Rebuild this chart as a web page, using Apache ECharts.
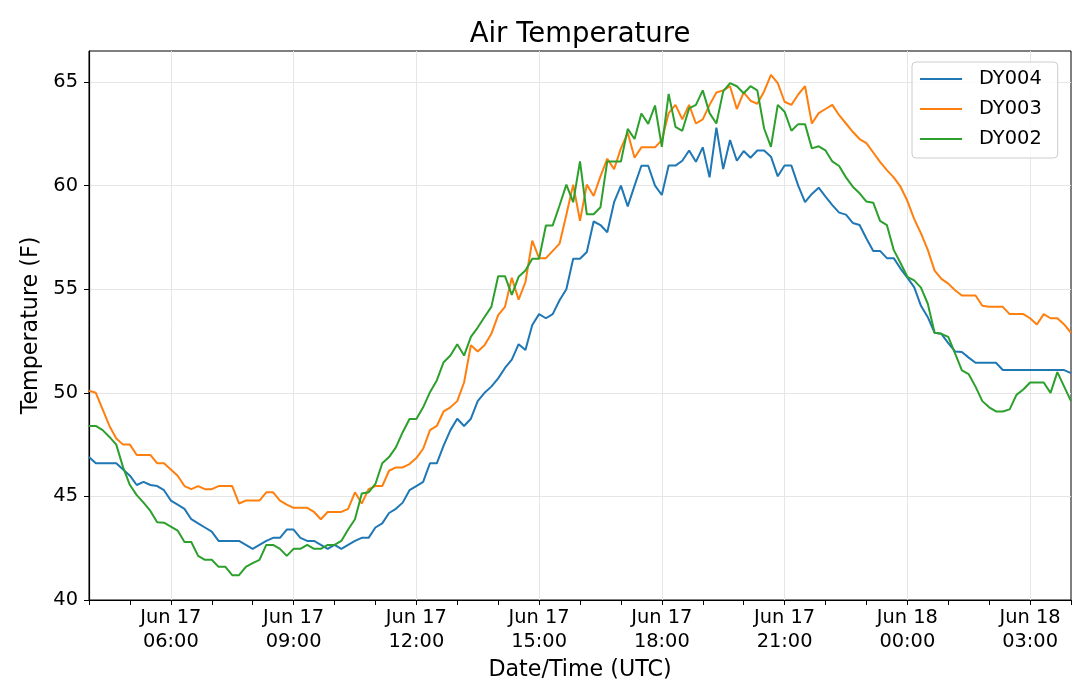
<!DOCTYPE html>
<html>
<head>
<meta charset="utf-8">
<script src="https://cdn.jsdelivr.net/npm/echarts@6/dist/echarts.min.js"></script>
<style>
html,body{margin:0;padding:0;background:#fff;}
#chart{width:1079px;height:698px;}
</style>
</head>
<body>
<div id="chart"></div>
<script>
// Samples every 10 minutes from Jun 17 04:00 UTC to Jun 18 04:00 UTC
var startHour = 4;          // hours since Jun 17 00:00 UTC
var stepHours = 1 / 6;      // 10 minutes

var dy004 = [46.9,46.6,46.6,46.6,46.6,46.3,46.0,45.55,45.7,45.55,45.5,45.3,44.8,44.6,44.4,43.9,43.7,43.5,43.3,42.85,
42.85,42.85,42.85,42.66,42.47,42.66,42.85,43.0,43.0,43.4,43.4,43.0,42.85,42.85,42.66,42.47,42.66,42.47,42.66,42.85,
43.0,43.0,43.5,43.7,44.2,44.4,44.7,45.3,45.5,45.7,46.6,46.6,47.45,48.2,48.75,48.4,48.75,49.6,50.0,50.3,
50.7,51.2,51.6,52.35,52.07,53.27,53.8,53.6,53.8,54.47,55.0,56.47,56.47,56.8,58.27,58.1,57.75,59.2,60.0,59.0,
60.0,60.96,60.96,60.0,59.55,60.97,60.97,61.2,61.7,61.15,61.85,60.4,62.8,60.8,62.2,61.2,61.67,61.35,61.7,61.7,
61.4,60.45,60.97,60.97,60.0,59.2,59.6,59.9,59.47,59.06,58.7,58.6,58.2,58.1,57.45,56.85,56.85,56.5,56.5,56.0,
55.56,55.1,54.2,53.65,52.9,52.85,52.4,52.0,51.97,51.7,51.45,51.45,51.45,51.45,51.1,51.1,51.1,51.1,51.1,51.1,
51.1,51.1,51.1,51.1,50.95];

var dy003 = [50.1,50.0,49.2,48.4,47.8,47.5,47.5,47.0,47.0,47.0,46.6,46.6,46.3,46.0,45.5,45.35,45.5,45.35,45.35,45.5,
45.5,45.5,44.66,44.8,44.8,44.8,45.2,45.2,44.8,44.6,44.45,44.45,44.45,44.25,43.9,44.25,44.25,44.25,44.4,45.2,
44.66,45.35,45.5,45.5,46.24,46.4,46.4,46.56,46.85,47.3,48.2,48.4,49.1,49.3,49.6,50.5,52.3,52.0,52.3,52.85,
53.75,54.15,55.55,54.5,55.35,57.35,56.5,56.5,56.85,57.2,58.6,60.05,58.3,60.05,59.5,60.45,61.3,60.8,61.8,62.55,
61.35,61.85,61.85,61.85,62.2,63.5,63.9,63.2,63.9,63.0,63.2,63.9,64.5,64.6,64.8,63.7,64.5,64.1,63.95,64.55,
65.35,64.95,64.05,63.9,64.4,64.8,63.0,63.5,63.7,63.9,63.4,63.0,62.6,62.25,62.05,61.6,61.15,60.75,60.4,59.95,
59.27,58.4,57.7,56.9,55.9,55.5,55.27,54.95,54.7,54.7,54.7,54.2,54.15,54.15,54.15,53.8,53.8,53.8,53.6,53.3,
53.8,53.6,53.6,53.3,52.9];

var dy002 = [48.4,48.4,48.2,47.87,47.5,46.4,45.55,45.06,44.7,44.3,43.75,43.73,43.54,43.35,42.8,42.8,42.13,41.94,41.94,41.6,
41.6,41.2,41.2,41.6,41.78,41.94,42.66,42.66,42.47,42.13,42.47,42.47,42.66,42.47,42.47,42.66,42.66,42.85,43.4,43.9,
45.14,45.2,45.6,46.6,46.9,47.37,48.1,48.74,48.74,49.3,50.03,50.6,51.48,51.8,52.34,51.8,52.7,53.15,53.66,54.15,
55.63,55.63,54.73,55.6,55.9,56.47,56.47,58.08,58.08,59.04,60.05,59.2,61.17,58.62,58.62,58.96,61.17,61.17,61.17,62.74,
62.25,63.48,62.98,63.87,61.87,64.43,62.84,62.65,63.73,63.9,64.6,63.5,63.0,64.55,64.95,64.8,64.46,64.8,64.6,62.76,
61.87,63.9,63.57,62.65,62.97,62.97,61.8,61.9,61.7,61.17,60.95,60.4,59.95,59.63,59.23,59.18,58.3,58.1,56.9,56.27,
55.6,55.43,55.08,54.3,52.9,52.85,52.7,51.9,51.08,50.9,50.3,49.6,49.3,49.1,49.1,49.2,49.9,50.16,50.5,50.5,
50.5,50.0,51.0,50.3,49.6];

var seriesNames = ['DY004', 'DY003', 'DY002'];
var seriesColors = ['#1f77b4', '#ff7f0e', '#2ca02c'];

var xTickHours = [6, 9, 12, 15, 18, 21, 24, 27];
var xTickLabels = ['Jun 17\n06:00', 'Jun 17\n09:00', 'Jun 17\n12:00', 'Jun 17\n15:00',
                   'Jun 17\n18:00', 'Jun 17\n21:00', 'Jun 18\n00:00', 'Jun 18\n03:00'];
var yTicks = [40, 45, 50, 55, 60, 65];

function toPairs(values) {
  return values.map(function (v, i) { return [startHour + i * stepHours, v]; });
}

var FONT = 'DejaVu Sans';
var chart = echarts.init(document.getElementById('chart'), null, {renderer: 'canvas'});

var allValues = [dy004, dy003, dy002];
var series = allValues.map(function (vals, k) {
  return {
    name: seriesNames[k],
    type: 'line',
    xAxisIndex: 0,
    data: toPairs(vals),
    symbol: 'none',
    showSymbol: false,
    smooth: false,
    animation: false,
    lineStyle: {color: seriesColors[k], width: 2},
    itemStyle: {color: seriesColors[k]},
    z: 3 + k
  };
});

chart.setOption({
  animation: false,
  backgroundColor: '#ffffff',
  textStyle: {fontFamily: FONT},
  title: {
    text: 'Air Temperature',
    left: 580,
    top: 21,
    padding: 0,
    textAlign: 'center',
    textStyle: {fontFamily: FONT, fontSize: 27.5, fontWeight: 'normal', color: '#000'}
  },
  legend: {
    data: seriesNames,
    orient: 'vertical',
    left: 912,
    top: 62,
    padding: [7, 16, 9, 8],
    icon: 'rect',
    itemWidth: 42,
    itemHeight: 2,
    itemGap: 10,
    backgroundColor: 'rgba(255,255,255,0.8)',
    borderColor: '#cccccc',
    borderWidth: 1,
    borderRadius: 4,
    textStyle: {fontFamily: FONT, fontSize: 19.4, color: '#000', lineHeight: 20, padding: [0, 0, 0, 12]}
  },
  grid: {
    left: 89, right: 8, top: 51, bottom: 98,
    show: true, borderColor: '#000', borderWidth: 1, backgroundColor: 'transparent'
  },
  xAxis: [{
    type: 'value',
    min: 4, max: 28,
    name: 'Date/Time (UTC)',
    nameLocation: 'middle',
    nameGap: 56,
    nameTextStyle: {fontFamily: FONT, fontSize: 22.2, color: '#000'},
    axisLine: {show: true, onZero: false, lineStyle: {color: '#000', width: 1.2}},
    axisTick: {show: true, customValues: xTickHours, length: 5, lineStyle: {color: '#000', width: 1}},
    axisLabel: {
      customValues: xTickHours,
      margin: 6,
      fontFamily: FONT, fontSize: 19.4, color: '#000', lineHeight: 24,
      formatter: function (v) {
        var idx = xTickHours.indexOf(Math.round(v));
        return idx >= 0 ? xTickLabels[idx] : '';
      }
    },
    splitLine: {show: true, lineStyle: {color: '#e6e6e6', width: 1}}
  }, {
    type: 'value',
    min: 4, max: 28, interval: 1,
    position: 'bottom',
    axisLine: {show: false},
    axisTick: {show: true, length: 5, lineStyle: {color: '#000', width: 1}},
    axisLabel: {show: false},
    splitLine: {show: false}
  }],
  yAxis: {
    type: 'value',
    min: 40, max: 66.5,
    name: 'Temperature (F)',
    nameLocation: 'middle',
    nameGap: 37,
    nameTextStyle: {fontFamily: FONT, fontSize: 22.2, color: '#000'},
    axisLine: {show: true, lineStyle: {color: '#000', width: 1.2}},
    axisTick: {show: true, customValues: yTicks, length: 5, lineStyle: {color: '#000', width: 1}},
    axisLabel: {customValues: yTicks, margin: 11, fontFamily: FONT, fontSize: 19.4, color: '#000'},
    splitLine: {show: true, lineStyle: {color: '#e6e6e6', width: 1}}
  },
  series: series
});
</script>
</body>
</html>
